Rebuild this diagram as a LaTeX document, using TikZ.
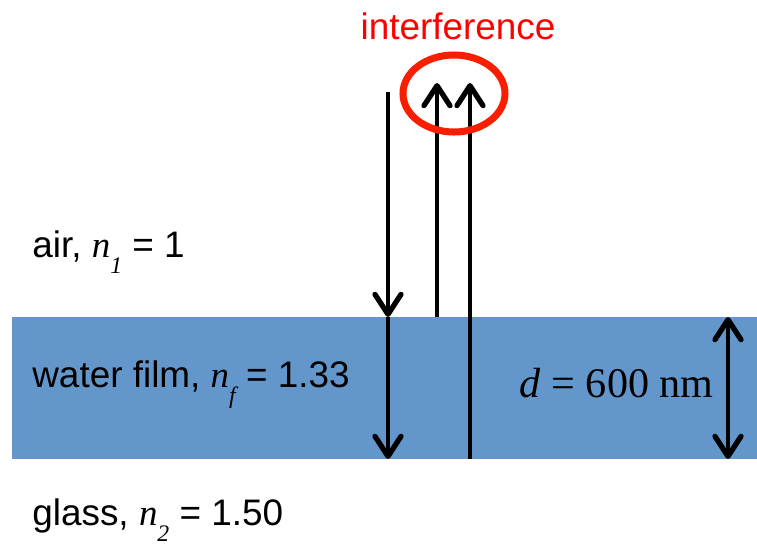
\documentclass[tikz,border=0pt]{standalone}
\usepackage{fontspec}
\setmainfont{Liberation Sans}
\newfontfamily\timesfont{Liberation Serif}
\usetikzlibrary{arrows.meta, positioning}
\definecolor{filmblue}{RGB}{99,151,203}
\definecolor{ringred}{RGB}{250,30,0}
\definecolor{textred}{RGB}{255,0,0}
\newcommand{\nidx}[1]{{\timesfont\itshape n\raisebox{-0.45em}{\fontsize{13.5}{13.5}\selectfont #1}}}
\tikzset{
  medtext/.style={font=\fontsize{21}{25}\selectfont, inner sep=0pt},
  ray/.style={-{Straight Barb[length=0.4cm, width=0.52cm, line width=3pt, round]}, line width=1.8pt, black},
  thick2/.style={{Straight Barb[length=0.4cm, width=0.52cm, line width=3pt, round]}-{Straight Barb[length=0.4cm, width=0.52cm, line width=3pt, round]}, line width=1.8pt, black},
  ring/.style={draw=ringred, line width=4pt}
}

\begin{document}
\begin{tikzpicture}
  \useasboundingbox (0,0) rectangle (15.14,-10.9);

  % Water film
  \fill[filmblue] (0.24,-6.34) rectangle (15.14,-9.18);

  % Labels
  \node[medtext, anchor=base west] (air) at (0.64,-5.14) {air, \nidx{1} = 1};
  \node[medtext, anchor=base west] (film) at (0.64,-7.74) {water film, \nidx{f} = 1.33};
  \node[medtext, anchor=base west] (glass) at (0.64,-10.5) {glass, \nidx{2} = 1.50};
  \node[medtext, anchor=base, text=textred] (interf) at (9.16,-0.78) {interference};
  \node[font=\fontsize{24}{27}\selectfont\timesfont, inner sep=0pt, anchor=base east] (thick) at (14.28,-7.94) {\textit{d} = 600 nm};

  % Ray end points
  \coordinate (inTop) at (7.76,-1.84);
  \coordinate (inSurf) at (7.76,-6.34);
  \coordinate (inBot) at (7.76,-9.18);
  \coordinate (upAs) at (8.74,-6.34);
  \coordinate (upAe) at (8.74,-1.66);
  \coordinate (upBs) at (9.40,-9.18);
  \coordinate (upBe) at (9.40,-1.66);
  \coordinate (dTop) at (14.56,-6.34);
  \coordinate (dBot) at (14.56,-9.18);
  \coordinate (ringc) at (9.08,-1.87);

  % Rays
  \draw[ray] (inTop) -- (inSurf);
  \draw[ray] (inSurf) -- (inBot);
  \draw[ray] (upAs) -- (upAe);
  \draw[ray] (upBs) -- (upBe);
  \draw[thick2] (dTop) -- (dBot);

  % Interference ring
  \draw[ring] (ringc) ellipse (1.02cm and 0.77cm);
\end{tikzpicture}
\end{document}
